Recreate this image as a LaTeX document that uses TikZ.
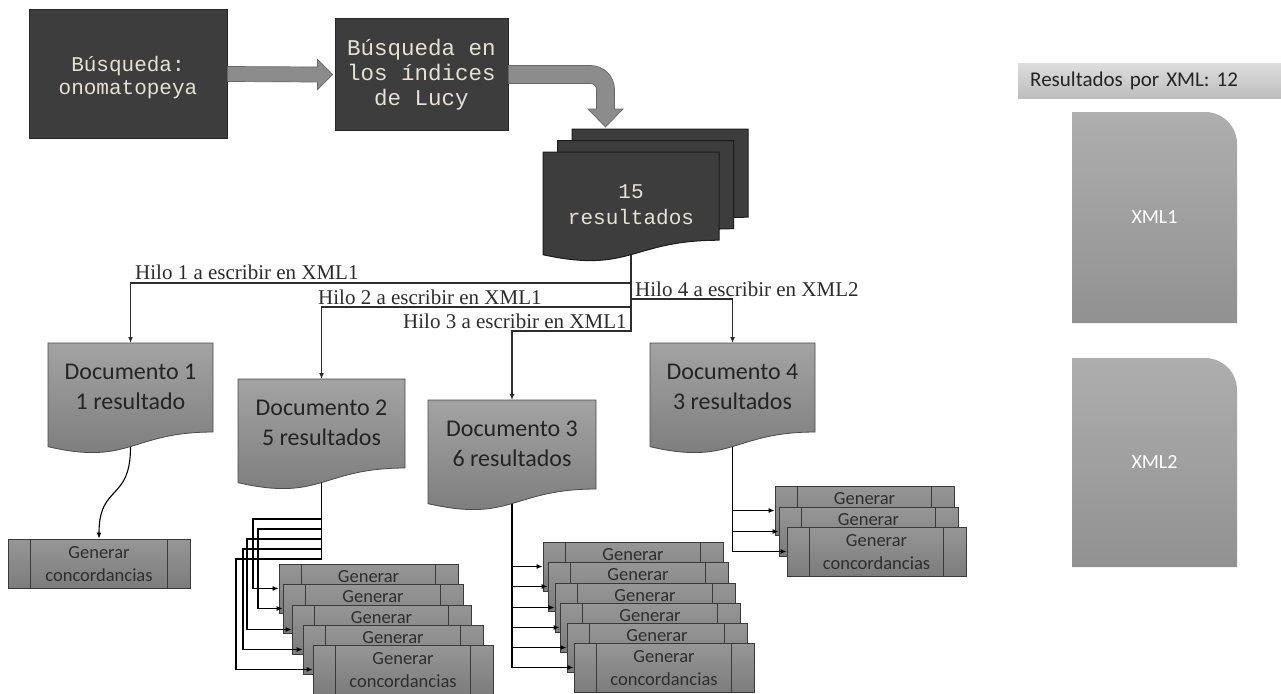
\documentclass[tikz,border=0pt]{standalone}
\usepackage{fontspec}
\setmainfont{Carlito}
\newfontfamily\monofont{Liberation Mono}
\newfontfamily\seriffont{Liberation Serif}
\usetikzlibrary{arrows.meta,calc}

\definecolor{darkfill}{HTML}{3D3D3D}
\definecolor{darkedge}{HTML}{262626}
\definecolor{sheetedge}{HTML}{1C1C1C}
\definecolor{monotext}{HTML}{E6E1D4}
\definecolor{arrowfill}{HTML}{8C8C8C}
\definecolor{arrowedge}{HTML}{666666}
\definecolor{docTop}{HTML}{A3A3A3}
\definecolor{docBot}{HTML}{7A7A7A}
\definecolor{docedge}{HTML}{4A4A4A}
\definecolor{doctextc}{HTML}{242424}
\definecolor{genTop}{HTML}{969696}
\definecolor{genBot}{HTML}{7C7C7C}
\definecolor{genedge}{HTML}{3A3A3A}
\definecolor{gentext}{HTML}{2E2E2E}
\definecolor{hiloc}{HTML}{2C2C2C}
\definecolor{xmlTop}{HTML}{AEAEAE}
\definecolor{xmlBot}{HTML}{919191}
\definecolor{barTop}{HTML}{DDDDDD}
\definecolor{barBot}{HTML}{BDBDBD}

% flowchart "document" outline: style, left x, top y, width, height
\newcommand{\docshape}[5]{%
  \path[#1] (#2,#3) -- ({#2+#4},#3) -- ({#2+#4},{#3+0.802*#5})
    .. controls ({#2+0.5*#4},{#3+0.802*#5}) and ({#2+0.5*#4},{#3+1.1075*#5})
    .. (#2,{#3+0.934*#5}) -- cycle;}

% document with its anchor node and caption: name, x, y, w, h, text
\newcommand{\docnode}[6]{%
  \docshape{docfill}{#2}{#3}{#4}{#5}
  \node[docarea, minimum width=#4pt, minimum height={0.933*#5}] (#1) at ({#2+#4/2},#3) {};
  \node[doctext] (#1-txt) at ({#2+#4/2},{#3+44}) {#6};}

% predefined-process box, side bars only: name, left x, top y, width
\newcommand{\procbox}[4]{%
  \node[genbox, minimum width=#4pt] (#1) at ({#2+#4/2},{#3+24.5}) {};
  \draw[genedge, line width=0.8pt] ($(#1.north west)+(23,0)$) -- ($(#1.south west)+(23,0)$)
    ($(#1.north east)+(-23,0)$) -- ($(#1.south east)+(-23,0)$);}

% box whose lower half is hidden by the next one in its stack
\newcommand{\genboxtop}[4]{%
  \procbox{#1}{#2}{#3}{#4}
  \node[gentextstyle] (#1-txt) at ({#2+#4/2},{#3+13}) {Generar};}

% fully visible box
\newcommand{\genbox}[4]{%
  \procbox{#1}{#2}{#3}{#4}
  \node[gentextstyle] (#1-txt) at ({#2+#4/2},{#3+25}) {Generar\\concordancias};}

% file with one rounded corner: x, y, w, h
\newcommand{\xmlshape}[4]{%
  \path[top color=xmlTop, bottom color=xmlBot] (#1,{#2+#4}) -- (#1,#2) -- ({#1+#3-32},#2)
    .. controls ({#1+#3-14.3},#2) and ({#1+#3},{#2+14.3}) .. ({#1+#3},{#2+32})
    -- ({#1+#3},{#2+#4}) -- cycle;}

\begin{document}
\begin{tikzpicture}[x=1pt,y=-1pt,
  darkbox/.style={draw=darkedge, fill=darkfill, line width=1pt, text=monotext,
    font=\monofont\fontsize{21}{23}\selectfont, align=center, inner sep=0pt},
  blockarrow/.style={fill=arrowfill, draw=arrowedge, line width=0.7pt},
  sheet/.style={fill=darkfill, draw=sheetedge, line width=1pt},
  docfill/.style={top color=docTop, bottom color=docBot, draw=docedge, line width=0.8pt},
  docarea/.style={anchor=north, inner sep=0pt},
  doctext/.style={font=\fontsize{24}{30}\selectfont, text=doctextc, align=center, inner sep=0pt},
  genbox/.style={draw=genedge, top color=genTop, bottom color=genBot, line width=0.8pt,
    minimum height=49pt, inner sep=0pt},
  gentextstyle/.style={font=\fontsize{18.5}{23}\selectfont, text=gentext, align=center, inner sep=0pt},
  conn/.style={draw=black, line width=1.1pt, -{Latex[length=6pt,width=5pt]}},
  hilo/.style={draw=hiloc, line width=1.4pt, -{Latex[length=6pt,width=5pt]}},
  hilolabel/.style={font=\seriffont\fontsize{21}{24}\selectfont, text=hiloc, inner sep=0pt, anchor=base west},
  xmltext/.style={font=\fontsize{20}{24}\selectfont, text=white, inner sep=0pt},
]
\useasboundingbox[fill=white] (0,0) rectangle (1281,693);

% ---- XML files panel
\node[top color=barTop, bottom color=barBot, anchor=west, minimum height=35pt,
  text width=239pt, inner xsep=12pt, inner ysep=0pt, align=left,
  font=\fontsize{21}{24}\selectfont, text=doctextc] (perxml) at (1018,80.5) {Resultados por XML: 12};
\xmlshape{1072}{112}{165}{211}
\node[xmltext] (xml1) at (1154.5,217.5) {XML1};
\xmlshape{1072}{358}{165}{209}
\node[xmltext] (xml2) at (1154.5,462.5) {XML2};

% ---- search steps
\node[darkbox, minimum width=198pt, minimum height=128pt] (s1) at (128,74) {};
\node[text=monotext, font=\monofont\fontsize{21}{23}\selectfont, align=center, inner sep=0pt]
  (s1-txt) at (128,78) {Búsqueda:\\onomatopeya};
\node[darkbox, minimum width=173pt, minimum height=111pt,
  font=\monofont\fontsize{22.5}{25}\selectfont] (s2) at (421.5,74.5) {Búsqueda en\\los índices\\de Lucy};

\draw[blockarrow] ($(s1.east)+(0,-7.5)$) -- ($(s2.west)+(-17,-7.5)$) -- ($(s2.west)+(-17,-15)$)
  -- ($(s2.west)+(-2,0)$) -- ($(s2.west)+(-17,15)$) -- ($(s2.west)+(-17,7.5)$)
  -- ($(s1.east)+(0,7.5)$) -- cycle;

\draw[blockarrow] ($(s2.east)+(0,-9)$) -- ++(82,0)
  .. controls +(13.25,0) and +(0,-13.25) .. ++(24,24) -- ++(0,19.5) -- ++(8.5,0)
  -- ++(-17.5,18) -- ++(-17.5,-18) -- ++(8.5,0) -- ++(0,-19.5)
  .. controls +(0,-3.3) and +(3.3,0) .. ++(-6,-6) -- ($(s2.east)+(0,9)$) -- cycle;

% ---- stack of results
\docshape{sheet}{572}{129}{176}{110}
\docshape{sheet}{557.5}{140.5}{176}{110}
\docshape{sheet}{543}{152}{176}{110}
\node[docarea, minimum width=176pt, minimum height=102.6pt] (res) at (631,152) {};
\node[text=monotext, font=\monofont\fontsize{21}{26}\selectfont, align=center, inner sep=0pt]
  (res-txt) at (631,205) {15\\resultados};

% ---- documents
\docnode{doc1}{48}{343}{165}{111}{Documento 1\\1 resultado}
\docnode{doc2}{238}{379}{167}{111}{Documento 2\\5 resultados}
\docnode{doc3}{428}{400}{168}{111}{Documento 3\\6 resultados}
\docnode{doc4}{650}{343}{165}{111}{Documento 4\\3 resultados}

% ---- threads
\coordinate (h1) at (631,283);
\coordinate (h2) at (631,307);
\coordinate (h3) at (631,331);
\coordinate (h4) at (631,299);
\draw[hilo] (res.south) -- (h1) -| (doc1.north);
\draw[hilo] (res.south) -- (h2) -| (doc2.north);
\draw[hilo] (res.south) -- (h3) -| (doc3.north);
\draw[hilo] (res.south) -- (h4) -| (doc4.north);
\node[hilolabel] (l1) at (135,279) {Hilo 1 a escribir en XML1};
\node[hilolabel] (l2) at (318,304) {Hilo 2 a escribir en XML1};
\node[hilolabel] (l3) at (403,328) {Hilo 3 a escribir en XML1};
\node[hilolabel] (l4) at (635,296) {Hilo 4 a escribir en XML2};

% ---- concordance generation
\genbox{g11}{8}{539}{182}

\genboxtop{g21}{279}{564}{179}
\genboxtop{g22}{283}{584}{180}
\genboxtop{g23}{292}{605}{179}
\genboxtop{g24}{303}{625}{180}
\genbox{g25}{313}{645}{180}

\genboxtop{g31}{543}{542}{180}
\genboxtop{g32}{548}{562}{180}
\genboxtop{g33}{555}{583}{180}
\genboxtop{g34}{560}{603}{180}
\genboxtop{g35}{567}{623}{180}
\genbox{g36}{574}{643}{180}

\genboxtop{g41}{775}{486}{179}
\genboxtop{g42}{779}{507}{179}
\genbox{g43}{787}{527}{179}

\draw[conn] (doc1.south) .. controls +(0,55) and +(0,-55) .. (g11.north);

\draw[conn] (doc2.south) |- (253,519) |- (g21.west);
\draw[conn] (doc2.south) |- (258,529) |- (g22.west);
\draw[conn] (doc2.south) |- (247,539) |- (g23.west);
\draw[conn] (doc2.south) |- (243,549) |- (g24.west);
\draw[conn] (doc2.south) |- (236,559) |- (g25.west);

\foreach \k in {1,...,6} \draw[conn] (doc3.south) |- (g3\k.west);
\foreach \k in {1,...,3} \draw[conn] (doc4.south) |- (g4\k.west);
\end{tikzpicture}
\end{document}
